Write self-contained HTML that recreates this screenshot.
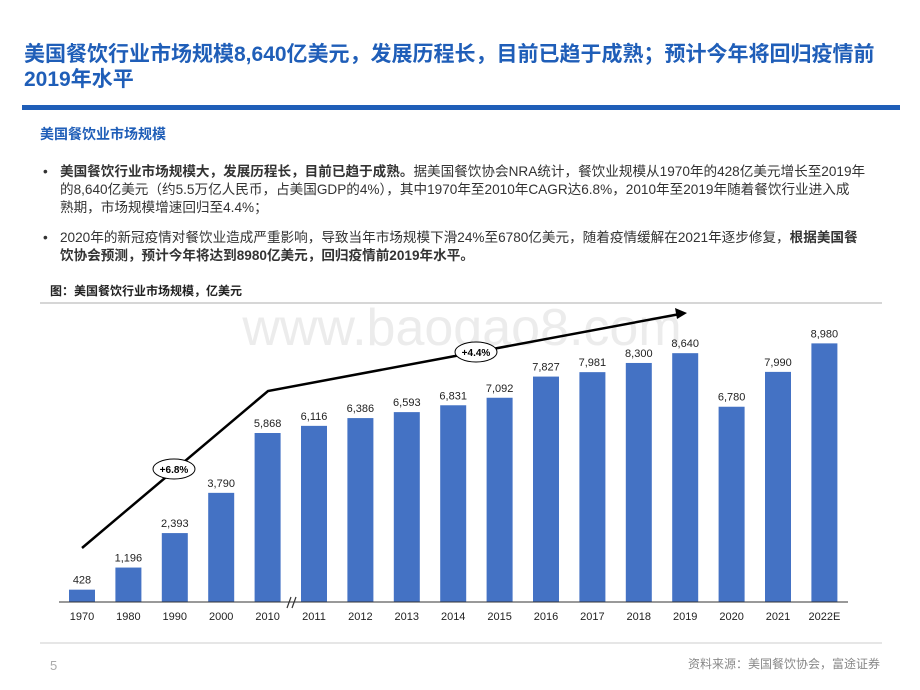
<!DOCTYPE html>
<html><head><meta charset="utf-8"><style>
body{margin:0;width:920px;height:690px;background:#fff;position:relative;overflow:hidden;font-family:"Liberation Sans","Noto Sans CJK SC",sans-serif}
.t{position:absolute;left:24px;top:42px;width:890px;font-size:21px;font-weight:bold;color:#1f5eb8;line-height:25px;white-space:nowrap}
.bar{position:absolute;left:22px;top:105px;width:878px;height:5px;background:#1f5eb8}
.sub{position:absolute;left:40px;top:124px;font-size:14px;font-weight:bold;color:#1f5eb8}
.b{position:absolute;left:60px;width:840px;font-size:13.6px;color:#333;line-height:18px;white-space:nowrap}
.b:before{content:"•";position:absolute;left:-17px}
.cap{position:absolute;left:50px;top:282px;font-size:12px;font-weight:bold;color:#222}
</style></head><body>
<div class="t">美国餐饮行业市场规模8,640亿美元，发展历程长，目前已趋于成熟；预计今年将回归疫情前<br>2019年水平</div>
<div class="bar"></div>
<div class="sub">美国餐饮业市场规模</div>
<div class="b" style="top:163px"><b>美国餐饮行业市场规模大，发展历程长，目前已趋于成熟。</b>据美国餐饮协会NRA统计，餐饮业规模从1970年的428亿美元增长至2019年<br>的8,640亿美元（约5.5万亿人民币，占美国GDP的4%），其中1970年至2010年CAGR达6.8%，2010年至2019年随着餐饮行业进入成<br>熟期，市场规模增速回归至4.4%；</div>
<div class="b" style="top:229px">2020年的新冠疫情对餐饮业造成严重影响，导致当年市场规模下滑24%至6780亿美元，随着疫情缓解在2021年逐步修复，<b>根据美国餐<br>饮协会预测，预计今年将达到8980亿美元，回归疫情前2019年水平。</b></div>
<div class="cap">图：美国餐饮行业市场规模，亿美元</div>
<svg id="c" width="920" height="690" style="position:absolute;left:0;top:0">
<line x1="40" y1="303" x2="882" y2="303" stroke="#c8c8c8" stroke-width="1.5"/>
<text x="462" y="345" font-size="52" fill="#ececec" text-anchor="middle" font-family="Liberation Sans">www.baogao8.com</text>
<line x1="40" y1="643" x2="882" y2="643" stroke="#ddd" stroke-width="1.5"/>
<text x="50" y="670" font-size="13" fill="#aaa">5</text>
<text x="880" y="668" font-size="12" fill="#888" text-anchor="end">资料来源：美国餐饮协会，富途证券</text>
</svg>
<script>
const categories=["1970","1980","1990","2000","2010","2011","2012","2013","2014","2015","2016","2017","2018","2019","2020","2021","2022E"];
const values=[428,1196,2393,3790,5868,6116,6386,6593,6831,7092,7827,7981,8300,8640,6780,7990,8980];
const labels=["428","1,196","2,393","3,790","5,868","6,116","6,386","6,593","6,831","7,092","7,827","7,981","8,300","8,640","6,780","7,990","8,980"];
const svg=document.getElementById('c');const NS='http://www.w3.org/2000/svg';
const base=602,k=0.0288;
const x=i=>82+i*46.4, y=v=>base-v*k;
function mk(t,a){const e=document.createElementNS(NS,t);for(const n in a)e.setAttribute(n,a[n]);svg.appendChild(e);return e;}
categories.forEach((c,i)=>{
 const r=mk('rect',{x:x(i)-13,y:y(values[i]),width:26,height:values[i]*k,fill:'#4472c4'});
 
 
 const t=mk('text',{x:x(i),y:y(values[i])-6,'font-size':11,'text-anchor':'middle',fill:'#222'});t.textContent=labels[i];
 
 
 const l=mk('text',{x:x(i),y:620,'font-size':11,'text-anchor':'middle',fill:'#222'});l.textContent=c;
 
 
});
const ax=mk('line',{x1:59,y1:base,x2:848,y2:base,stroke:'#333','stroke-width':1});


const br=mk('path',{d:`M287 608 L291 597 M292 608 L296 597`,stroke:'#333','stroke-width':1.2,fill:'none'});


const ar=mk('path',{d:'M82 548 L268 391 L680 314',stroke:'#000','stroke-width':2.5,fill:'none'});


const ah=mk('path',{d:'M687 313 L675 308 L677 319 Z',fill:'#000'});


[[174,469,'+6.8%','cagr-1970-2010'],[476,352,'+4.4%','cagr-2010-2019']].forEach(([cx,cy,s,n])=>{
 const e=mk('ellipse',{cx:cx,cy:cy,rx:21,ry:10,fill:'#fff',stroke:'#000','stroke-width':1});
 
 
 const t=mk('text',{x:cx,y:cy+4,'font-size':10,'font-weight':'bold','text-anchor':'middle'});t.textContent=s;
 
 
});
</script>
</body></html>
